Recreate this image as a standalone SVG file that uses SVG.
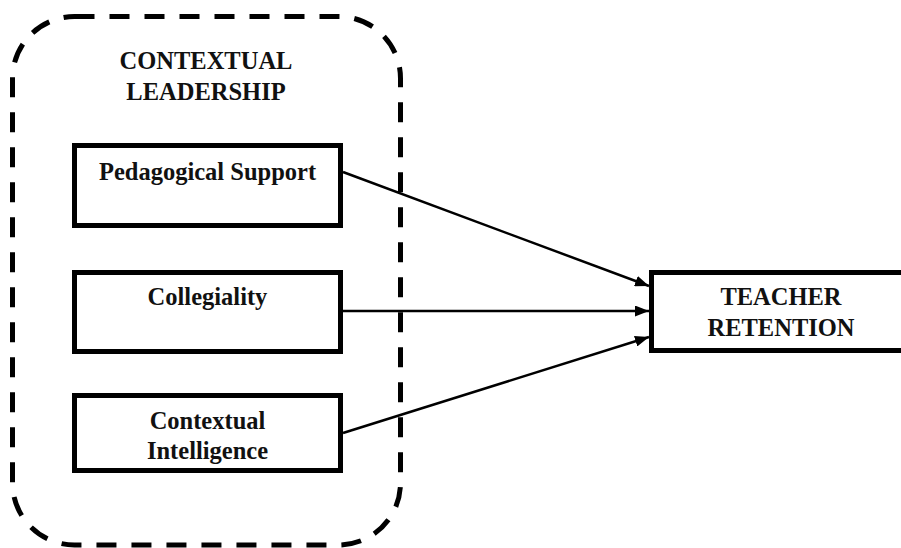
<svg xmlns="http://www.w3.org/2000/svg" width="901" height="548" viewBox="0 0 901 548">
<style>
.box{fill:#fff;stroke:#000;stroke-width:5}
.t{font-family:"Liberation Serif","Times New Roman",serif;font-weight:bold;font-size:24.5px;fill:#111;text-anchor:middle}
.c{stroke:#000;stroke-width:2.5;fill:none;marker-end:url(#ah)}
</style>
<defs>
<marker id="ah" viewBox="0 0 14 11" refX="14" refY="5.5" markerWidth="14" markerHeight="11" markerUnits="userSpaceOnUse" orient="auto">
<path d="M0,0 L14,5.5 L0,11 Z" fill="#000"/>
</marker>
</defs>
<rect width="901" height="548" fill="#fff"/>
<g id="contextual-leadership">
<rect x="12.5" y="16.5" width="388" height="528.5" rx="62" ry="62" fill="none" stroke="#000" stroke-width="5" stroke-dasharray="20 15"/>
<text class="t" x="206" y="69">CONTEXTUAL</text>
<text class="t" x="206" y="100">LEADERSHIP</text>
</g>
<g id="connectors">
<line class="c" x1="343" y1="172" x2="649" y2="286"/>
<line class="c" x1="343" y1="311" x2="649" y2="311"/>
<line class="c" x1="343" y1="433" x2="649" y2="337"/>
</g>
<g id="pedagogical-support">
<rect class="box" x="74.5" y="145.5" width="266" height="80"/>
<text class="t" x="207.5" y="180">Pedagogical Support</text>
</g>
<g id="collegiality">
<rect class="box" x="74.5" y="272.5" width="266" height="79"/>
<text class="t" x="207.5" y="305">Collegiality</text>
</g>
<g id="contextual-intelligence">
<rect class="box" x="74.5" y="395.5" width="266" height="75"/>
<text class="t" x="207.5" y="429">Contextual</text>
<text class="t" x="207.5" y="459">Intelligence</text>
</g>
<g id="teacher-retention">
<rect class="box" x="651.5" y="272.5" width="262" height="78"/>
<text class="t" x="781" y="305">TEACHER</text>
<text class="t" x="781" y="336">RETENTION</text>
</g>
</svg>
